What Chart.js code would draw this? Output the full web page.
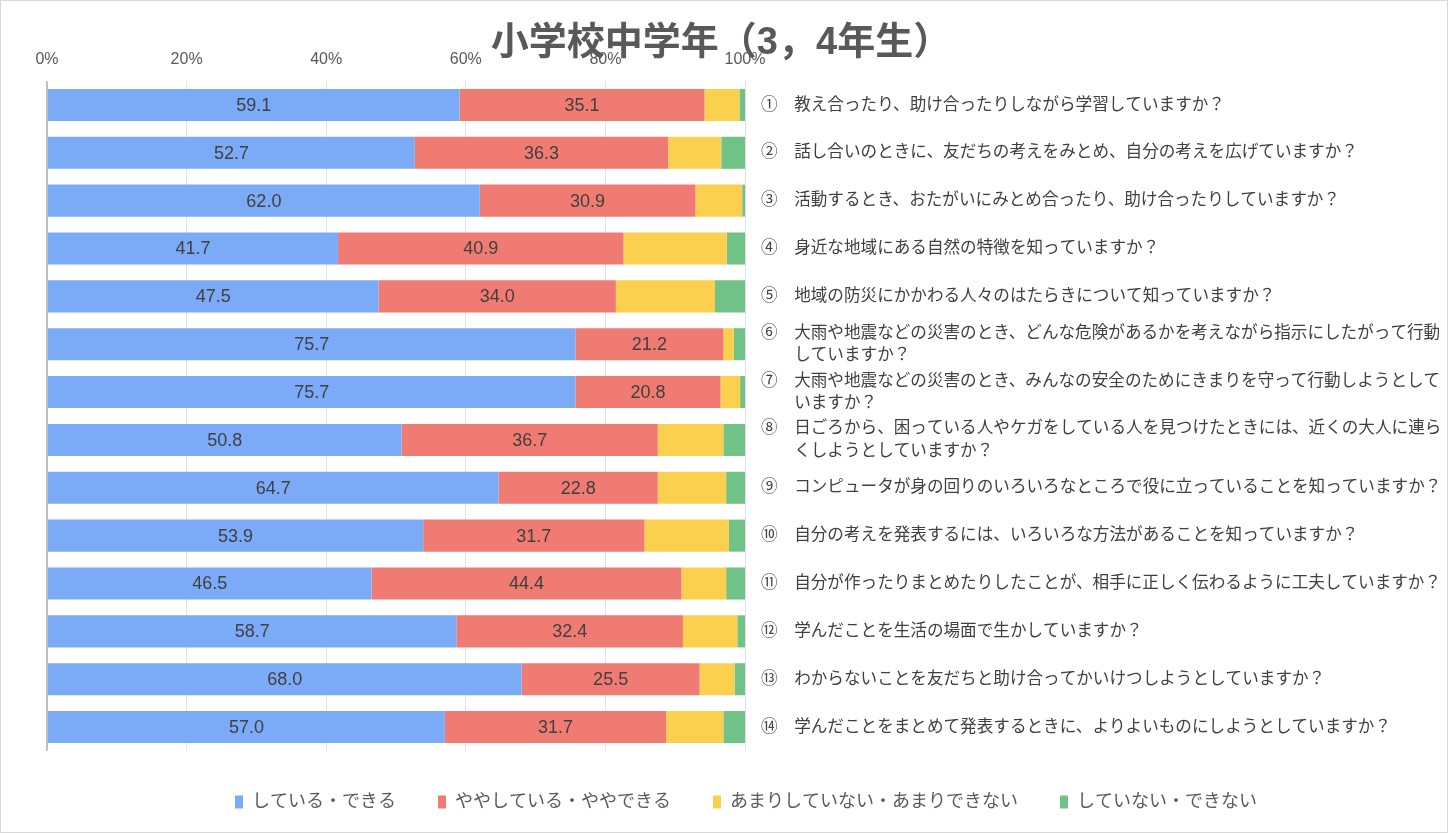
<!DOCTYPE html>
<html>
<head>
<meta charset="utf-8">
<script src="https://cdn.jsdelivr.net/npm/chart.js@4"></script>
<style>
  html, body { margin: 0; padding: 0; background: #fff; }
  #wrap { position: relative; width: 1448px; height: 833px; box-sizing: border-box; border: 1px solid #d9d9d9; }
  #title {
    position: absolute; top: 18px; left: 0; width: 1440px; text-align: center;
    font: bold 38px "Liberation Sans", "Noto Sans CJK JP", sans-serif; line-height: 44px;
    color: #595959; white-space: nowrap; z-index: 2;
  }
</style>
</head>
<body>
<div id="wrap">
  <div id="title">小学校中学年（3，4年生）</div>
  <canvas id="myChart"></canvas>
</div>
<script>
const questions = [
  "①　教え合ったり、助け合ったりしながら学習していますか？",
  "②　話し合いのときに、友だちの考えをみとめ、自分の考えを広げていますか？",
  "③　活動するとき、おたがいにみとめ合ったり、助け合ったりしていますか？",
  "④　身近な地域にある自然の特徴を知っていますか？",
  "⑤　地域の防災にかかわる人々のはたらきについて知っていますか？",
  ["⑥　大雨や地震などの災害のとき、どんな危険があるかを考えながら指示にしたがって行動", "　　していますか？"],
  ["⑦　大雨や地震などの災害のとき、みんなの安全のためにきまりを守って行動しようとして", "　　いますか？"],
  ["⑧　日ごろから、困っている人やケガをしている人を見つけたときには、近くの大人に連ら", "　　くしようとしていますか？"],
  "⑨　コンピュータが身の回りのいろいろなところで役に立っていることを知っていますか？",
  "⑩　自分の考えを発表するには、いろいろな方法があることを知っていますか？",
  "⑪　自分が作ったりまとめたりしたことが、相手に正しく伝わるように工夫していますか？",
  "⑫　学んだことを生活の場面で生かしていますか？",
  "⑬　わからないことを友だちと助け合ってかいけつしようとしていますか？",
  "⑭　学んだことをまとめて発表するときに、よりよいものにしようとしていますか？",
];

const dekiru = [59.1, 52.7, 62.0, 41.7, 47.5, 75.7, 75.7, 50.8, 64.7, 53.9, 46.5, 58.7, 68.0, 57.0];
const yayaDekiru = [35.1, 36.3, 30.9, 40.9, 34.0, 21.2, 20.8, 36.7, 22.8, 31.7, 44.4, 32.4, 25.5, 31.7];
const amari = [5.0, 7.6, 6.7, 14.8, 14.2, 1.5, 2.8, 9.4, 9.8, 12.1, 6.4, 7.8, 5.0, 8.2];
const dekinai = [0.8, 3.4, 0.4, 2.6, 4.3, 1.6, 0.7, 3.1, 2.7, 2.3, 2.7, 1.1, 1.5, 3.1];

const xTicks = [0, 20, 40, 60, 80, 100];

const FONT = '"Liberation Sans", "Noto Sans CJK JP", sans-serif';

// values printed inside the blue and red segments
const segmentLabels = {
  id: "segmentLabels",
  afterDatasetsDraw(chart) {
    const ctx = chart.ctx;
    ctx.save();
    ctx.font = "18px " + FONT;
    ctx.fillStyle = "#404040";
    ctx.textAlign = "center";
    ctx.textBaseline = "middle";
    [0, 1].forEach((di) => {
      const ds = chart.data.datasets[di];
      chart.getDatasetMeta(di).data.forEach((bar, i) => {
        ctx.fillText(ds.data[i].toFixed(1), (bar.x + bar.base) / 2, bar.y + 1);
      });
    });
    ctx.restore();
  },
};

const ctx = document.getElementById("myChart").getContext("2d");

new Chart(ctx, {
  type: "bar",
  data: {
    labels: questions,
    datasets: [
      { label: "している・できる", data: dekiru, backgroundColor: "#7BAAF7" },
      { label: "ややしている・ややできる", data: yayaDekiru, backgroundColor: "#F07B72" },
      { label: "あまりしていない・あまりできない", data: amari, backgroundColor: "#FCD04F" },
      { label: "していない・できない", data: dekinai, backgroundColor: "#71C287" },
    ],
  },
  options: {
    indexAxis: "y",
    responsive: true,
    maintainAspectRatio: false,
    animation: false,
    categoryPercentage: 1,
    barPercentage: 0.67,
    layout: { padding: { top: 50, left: 46, right: 2, bottom: 11 } },
    plugins: {
      title: { display: false },
      tooltip: { enabled: false },
      legend: {
        position: "bottom",
        labels: {
          boxWidth: 8,
          boxHeight: 13,
          padding: 42,
          color: "#595959",
          font: { family: FONT, size: 18 },
        },
      },
    },
    scales: {
      x: {
        position: "top",
        stacked: true,
        min: 0,
        max: 100,
        afterBuildTicks: (s) => { s.ticks = xTicks.map((v) => ({ value: v })); },
        afterFit: (s) => { s.height = 30; },
        ticks: {
          callback: (v) => v + "%",
          color: "#595959",
          padding: 12,
          font: { family: FONT, size: 16 },
        },
        grid: {
          drawTicks: false,
          color: (c) => (c.index === 0 ? "#bfbfbf" : "#e3e3e3"),
          lineWidth: (c) => (c.index === 0 ? 2 : 1),
        },
        border: { display: false },
      },
      y: {
        position: "right",
        stacked: true,
        afterFit: (s) => { s.width = 700; },
        grid: { display: false },
        border: { display: false },
        ticks: {
          color: "#404040",
          padding: 8,
          font: { family: FONT, size: 16.6, lineHeight: 1.33 },
        },
      },
    },
  },
  plugins: [segmentLabels],
});
</script>
</body>
</html>
